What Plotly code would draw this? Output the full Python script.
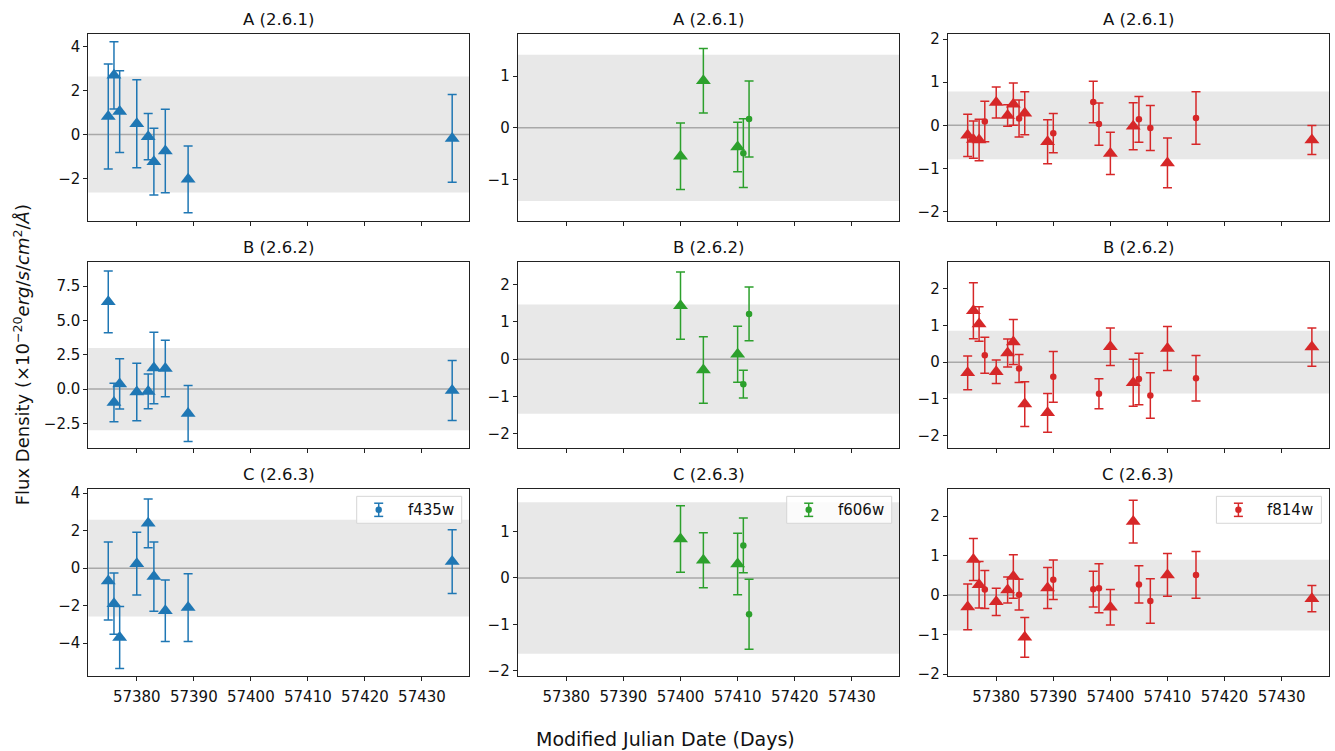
import plotly.graph_objects as go
from plotly.subplots import make_subplots

# ---------------- data ----------------
filters = ["f435w", "f606w", "f814w"]
colors = ["#1f77b4", "#2ca02c", "#d62728"]
row_titles = ["A (2.6.1)", "B (2.6.2)", "C (2.6.3)"]
xtick_vals = [57380, 57390, 57400, 57410, 57420, 57430]

# epochs (MJD)
blue_tri_mjd = [57375, 57376, 57377, 57380, 57382, 57383, 57385, 57389, 57435.3]
blue_dot_mjd = []
green_tri_mjd = [57400, 57404, 57410]
green_dot_mjd = [57411, 57412]
red_tri_mjd = [57375, 57376, 57377, 57380, 57382, 57383, 57385, 57389, 57400, 57404, 57410, 57435.3]
red_dot_mjd = [57378, 57384, 57390, 57397, 57398, 57405, 57407, 57415]

# f435w (blue) -- triangles
blue_tri_A = [0.82, 2.69, 1.04, 0.49, -0.10, -1.24, -0.75, -2.04, -0.18]
blue_tri_A_err = [2.39, 1.53, 1.86, 2.00, 1.05, 1.52, 1.90, 1.52, 2.00]
blue_tri_B = [6.35, -0.98, 0.38, -0.21, -0.17, 1.53, 1.50, -1.77, -0.10]
blue_tri_B_err = [2.25, 1.40, 1.83, 2.09, 1.26, 2.60, 2.06, 2.04, 2.18]
blue_tri_C = [-0.68, -1.89, -3.69, 0.24, 2.39, -0.45, -2.27, -2.10, 0.35]
blue_tri_C_err = [2.08, 1.63, 1.65, 1.67, 1.30, 1.84, 1.64, 1.80, 1.70]
blue_dot_A, blue_dot_A_err = [], []
blue_dot_B, blue_dot_B_err = [], []
blue_dot_C, blue_dot_C_err = [], []

# f606w (green)
green_tri_A = [-0.55, 0.91, -0.37]
green_tri_A_err = [0.645, 0.625, 0.48]
green_dot_A = [-0.49, 0.17]
green_dot_A_err = [0.665, 0.735]
green_tri_B = [1.43, -0.29, 0.13]
green_tri_B_err = [0.90, 0.89, 0.75]
green_dot_B = [-0.67, 1.21]
green_dot_B_err = [0.37, 0.72]
green_tri_C = [0.84, 0.38, 0.30]
green_tri_C_err = [0.715, 0.59, 0.66]
green_dot_C = [0.70, -0.78]
green_dot_C_err = [0.59, 0.75]

# f814w (red)
red_tri_A = [-0.23, -0.33, -0.34, 0.53, 0.23, 0.49, 0.28, -0.38, -0.65, -0.02, -0.87, -0.34]
red_tri_A_err = [0.49, 0.43, 0.48, 0.36, 0.25, 0.49, 0.50, 0.51, 0.49, 0.545, 0.575, 0.335]
red_dot_A = [0.09, 0.16, -0.18, 0.54, 0.03, 0.14, -0.06, 0.17]
red_dot_A_err = [0.47, 0.43, 0.455, 0.48, 0.49, 0.53, 0.52, 0.61]
red_tri_B = [-0.29, 1.40, 1.04, -0.26, 0.25, 0.55, -1.14, -1.38, 0.42, -0.56, 0.37, 0.41]
red_tri_B_err = [0.46, 0.76, 0.47, 0.32, 0.38, 0.61, 0.61, 0.53, 0.51, 0.64, 0.60, 0.52]
red_dot_B = [0.19, -0.17, -0.40, None, -0.86, -0.46, -0.91, -0.44]
red_dot_B_err = [0.49, 0.38, 0.69, None, 0.41, 0.70, 0.62, 0.62]
red_tri_C = [-0.30, 0.90, 0.26, -0.17, 0.13, 0.47, -1.07, 0.18, -0.31, 1.86, 0.51, -0.09]
red_tri_C_err = [0.58, 0.53, 0.59, 0.345, 0.33, 0.55, 0.50, 0.52, 0.45, 0.54, 0.54, 0.33]
red_dot_C = [0.14, 0.01, 0.39, 0.15, 0.17, 0.27, -0.15, 0.51]
red_dot_C_err = [0.48, 0.39, 0.50, 0.45, 0.62, 0.47, 0.56, 0.59]

# half-widths of the grey scatter band per (row, column)
band_A = [2.64, 1.415, 0.785]
band_B = [2.99, 1.46, 0.855]
band_C = [2.58, 1.63, 0.895]

# y-axis ranges per (row, column)
yrange_A = [[-3.93, 4.58], [-1.80, 1.82], [-2.21, 2.12]]
yrange_B = [[-4.32, 9.28], [-2.39, 2.61], [-2.35, 2.74]]
yrange_C = [[-5.75, 4.21], [-2.11, 1.91], [-2.05, 2.68]]
ydtick_A = [2, 1, 1]
ydtick_B = [2.5, 1, 1]
ydtick_C = [2, 1, 1]
x_range = [57371.5, 57438.3]

# ---------------- assemble ----------------
tri_mjd = [blue_tri_mjd, green_tri_mjd, red_tri_mjd]
dot_mjd = [blue_dot_mjd, green_dot_mjd, red_dot_mjd]
tri_vals = [
    [blue_tri_A, green_tri_A, red_tri_A],
    [blue_tri_B, green_tri_B, red_tri_B],
    [blue_tri_C, green_tri_C, red_tri_C],
]
tri_errs = [
    [blue_tri_A_err, green_tri_A_err, red_tri_A_err],
    [blue_tri_B_err, green_tri_B_err, red_tri_B_err],
    [blue_tri_C_err, green_tri_C_err, red_tri_C_err],
]
dot_vals = [
    [blue_dot_A, green_dot_A, red_dot_A],
    [blue_dot_B, green_dot_B, red_dot_B],
    [blue_dot_C, green_dot_C, red_dot_C],
]
dot_errs = [
    [blue_dot_A_err, green_dot_A_err, red_dot_A_err],
    [blue_dot_B_err, green_dot_B_err, red_dot_B_err],
    [blue_dot_C_err, green_dot_C_err, red_dot_C_err],
]
bands = [band_A, band_B, band_C]
yranges = [yrange_A, yrange_B, yrange_C]
ydticks = [ydtick_A, ydtick_B, ydtick_C]

W, H = 1335, 751
col_px = [(88.3, 469.3), (517.7, 899.3), (947.7, 1329.0)]
row_px = [(29.3, 219.3), (260.7, 450.7), (492.0, 682.0)]

FONT = "DejaVu Sans"
TICK = 15
LABEL = 19
fig = make_subplots(rows=3, cols=3)

for r in range(3):
    for c in range(3):
        n = r * 3 + c + 1
        col = colors[c]
        # triangles
        fig.add_trace(go.Scatter(
            x=tri_mjd[c], y=tri_vals[r][c], mode="markers",
            marker=dict(symbol="triangle-up", size=13, color=col, line=dict(width=0)),
            error_y=dict(type="data", array=tri_errs[r][c], visible=True,
                         color=col, thickness=1.5, width=4.5),
            showlegend=False, hoverinfo="x+y"), row=r + 1, col=c + 1)
        # dots
        if len(dot_vals[r][c]) > 0:
            fig.add_trace(go.Scatter(
                x=dot_mjd[c], y=dot_vals[r][c], mode="markers",
                marker=dict(symbol="circle", size=6.5, color=col, line=dict(width=0)),
                error_y=dict(type="data", array=dot_errs[r][c], visible=True,
                             color=col, thickness=1.5, width=4.5),
                showlegend=False, name=filters[c]), row=r + 1, col=c + 1)

        sfx = "" if n == 1 else str(n)
        x0, x1 = col_px[c]
        t0, t1 = row_px[r]
        fig.layout["xaxis" + sfx].update(
            domain=[x0 / W, x1 / W], range=x_range, tickvals=xtick_vals,
            tickformat="d", ticklabelstandoff=3,
            showticklabels=(r == 2), ticks="outside", ticklen=4, tickwidth=1,
            tickcolor="#222", showline=True, mirror=True, linecolor="#222",
            linewidth=1, showgrid=False, zeroline=False,
            tickfont=dict(family=FONT, size=TICK, color="#111"))
        fig.layout["yaxis" + sfx].update(
            domain=[1 - t1 / H, 1 - t0 / H], range=yranges[r][c],
            dtick=ydticks[r][c], tick0=0,
            tickformat=".1f" if ydticks[r][c] == 2.5 else "",
            ticks="outside", ticklen=4, tickwidth=1, tickcolor="#222",
            showline=True, mirror=True, linecolor="#222", linewidth=1,
            showgrid=False, zeroline=False,
            tickfont=dict(family=FONT, size=TICK, color="#111"))

        xd = "x" + sfx + " domain"
        yy = "y" + sfx
        # grey band
        fig.add_shape(type="rect", xref=xd, yref=yy, x0=0, x1=1,
                      y0=-bands[r][c], y1=bands[r][c], fillcolor="#e8e8e8",
                      line=dict(width=0), layer="below")
        # zero line
        fig.add_shape(type="line", xref=xd, yref=yy, x0=0, x1=1, y0=0, y1=0,
                      line=dict(color="#a8a8a8", width=1.5), layer="below")
        # subplot title
        fig.add_annotation(text=row_titles[r], xref="paper", yref="paper",
                           x=(x0 + x1) / 2 / W, y=1 - t0 / H, xanchor="center",
                           yanchor="bottom", yshift=3, showarrow=False,
                           font=dict(family=FONT, size=16.5, color="#111"))

        # legend (bottom row)
        if r == 2:
            yd = "y" + sfx + " domain"
            wpx = x1 - x0
            hpx = t1 - t0
            bx0 = 1 - (7.6 + 105) / wpx
            bx1 = 1 - 7.6 / wpx
            by1 = 1 - 7.3 / hpx
            by0 = 1 - (7.3 + 27.4) / hpx
            gx = bx0 + 22 / wpx
            gy = (by0 + by1) / 2
            fig.add_shape(type="rect", xref=xd, yref=yd, x0=bx0, x1=bx1, y0=by0, y1=by1,
                          fillcolor="rgba(255,255,255,0.8)",
                          line=dict(color="#d6d6d6", width=1), layer="above")
            cap = 6.7 / hpx
            fig.add_shape(type="line", xref=xd, yref=yd, x0=gx, x1=gx,
                          y0=gy - cap, y1=gy + cap, line=dict(color=col, width=1.5),
                          layer="above")
            for cy in (gy - cap, gy + cap):
                fig.add_shape(type="line", xref=xd, yref=yd, xsizemode="pixel",
                              xanchor=gx, x0=-4.5, x1=4.5, y0=cy, y1=cy,
                              line=dict(color=col, width=1.5), layer="above")
            fig.add_shape(type="circle", xref=xd, yref=yd, xsizemode="pixel",
                          ysizemode="pixel", xanchor=gx, yanchor=gy,
                          x0=-3.2, x1=3.2, y0=-3.2, y1=3.2, fillcolor=col,
                          line=dict(width=0), layer="above")
            fig.add_annotation(text=filters[c], xref=xd, yref=yd, x=gx + 27 / wpx,
                               y=gy, xanchor="left", yanchor="middle", showarrow=False,
                               font=dict(family=FONT, size=TICK, color="#111"))

fig.add_annotation(text="Modified Julian Date (Days)", xref="paper", yref="paper",
                   x=665 / W, y=1 - 746 / H, xanchor="center", yanchor="middle",
                   showarrow=False, font=dict(family=FONT, size=LABEL, color="#111"))
fig.add_annotation(
    text="Flux Density (×10<sup>−20</sup><i>erg</i>/<i>s</i>/<i>cm</i><sup>2</sup>/<i>Å</i>)",
    xref="paper", yref="paper", x=22 / W, y=1 - 356 / H, xanchor="center",
    yanchor="middle", textangle=-90, showarrow=False,
    font=dict(family=FONT, size=LABEL - 1, color="#111"))

fig.update_layout(width=W, height=H, margin=dict(l=0, r=0, t=0, b=0),
                  paper_bgcolor="white", plot_bgcolor="white", showlegend=False,
                  font=dict(family=FONT))
fig.write_html("out.html", config={"displayModeBar": False},
               post_script="document.body.style.margin='0px';document.body.style.padding='0px';")
